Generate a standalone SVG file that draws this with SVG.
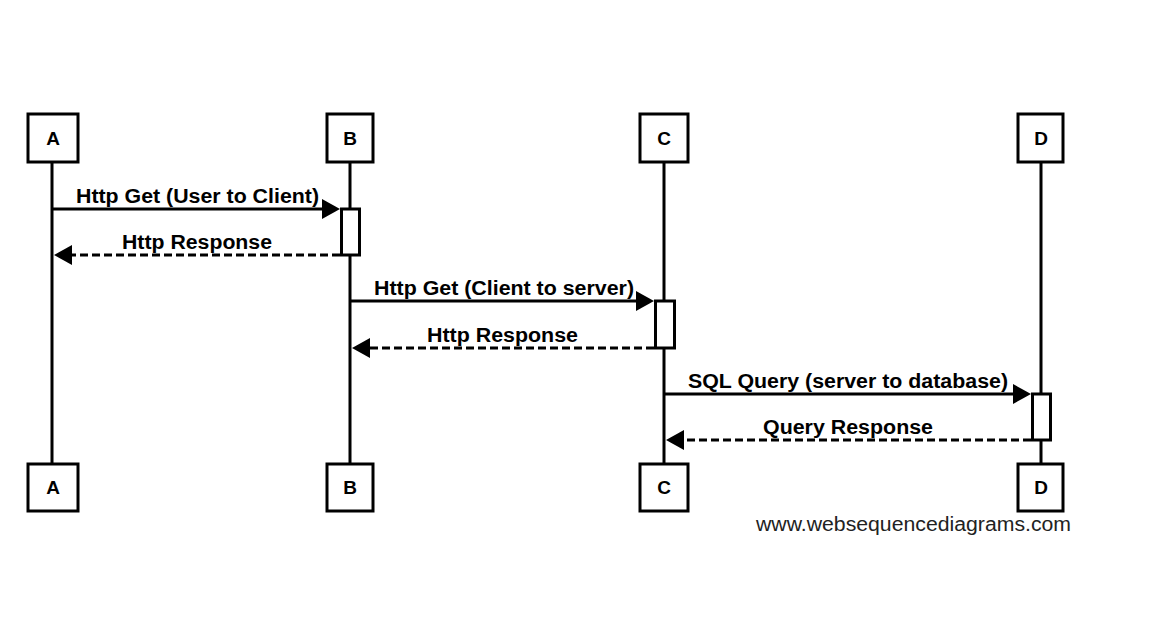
<svg xmlns="http://www.w3.org/2000/svg" width="1155" height="617" viewBox="0 0 1155 617">
<style>
.box{fill:#fff;stroke:#000;stroke-width:3}
.life{stroke:#000;stroke-width:3;fill:none}
.act{fill:#fff;stroke:#000;stroke-width:3}
.msg{stroke:#000;stroke-width:3;fill:none}
.dash{stroke-dasharray:8,4}
.head{fill:#000;stroke:none}
.lbl{font-family:"Liberation Sans",Arial,sans-serif;font-weight:bold;font-size:19px;fill:#000;text-anchor:middle}
.mtxt{font-family:"Liberation Sans",Arial,sans-serif;font-weight:bold;font-size:20px;fill:#000}
.wm{font-family:"Liberation Sans",Arial,sans-serif;font-size:20px;fill:#222}
</style>
<rect width="1155" height="617" fill="#fff"/>
<g id="lifelines">
<line class="life" x1="52" y1="163" x2="52" y2="463"/>
<line class="life" x1="350" y1="163" x2="350" y2="463"/>
<line class="life" x1="664" y1="163" x2="664" y2="463"/>
<line class="life" x1="1041" y1="163" x2="1041" y2="463"/>
</g>
<g id="node-A">
<rect class="box" x="28" y="114" width="50" height="48"/>
<text class="lbl" x="53" y="145">A</text>
<rect class="box" x="28" y="464" width="50" height="47"/>
<text class="lbl" x="53" y="494">A</text>
</g>
<g id="node-B">
<rect class="box" x="327" y="114" width="46" height="48"/>
<text class="lbl" x="350" y="145">B</text>
<rect class="box" x="327" y="464" width="46" height="47"/>
<text class="lbl" x="350" y="494">B</text>
</g>
<g id="node-C">
<rect class="box" x="640" y="114" width="48" height="48"/>
<text class="lbl" x="664" y="145">C</text>
<rect class="box" x="640" y="464" width="48" height="47"/>
<text class="lbl" x="664" y="494">C</text>
</g>
<g id="node-D">
<rect class="box" x="1018" y="114" width="45" height="48"/>
<text class="lbl" x="1041" y="145">D</text>
<rect class="box" x="1018" y="464" width="45" height="47"/>
<text class="lbl" x="1041" y="494">D</text>
</g>
<g id="activations">
<rect class="act" x="341.5" y="209" width="18" height="46"/>
<rect class="act" x="655.5" y="301" width="19" height="47"/>
<rect class="act" x="1032.5" y="394" width="18" height="46"/>
</g>
<g id="connectors">
<line class="msg" x1="52" y1="209" x2="326" y2="209"/>
<polygon class="head" points="340,209 322,199 322,219"/>
<line class="msg dash" x1="340" y1="255" x2="68" y2="255"/>
<polygon class="head" points="54,255 72,245 72,265"/>
<line class="msg" x1="350" y1="301" x2="640" y2="301"/>
<polygon class="head" points="654,301 636,291 636,311"/>
<line class="msg dash" x1="654" y1="348" x2="366" y2="348"/>
<polygon class="head" points="352,348 370,338 370,358"/>
<line class="msg" x1="664" y1="394" x2="1017" y2="394"/>
<polygon class="head" points="1031,394 1013,384 1013,404"/>
<line class="msg dash" x1="1031" y1="440" x2="680" y2="440"/>
<polygon class="head" points="666,440 684,430 684,450"/>
</g>
<g id="labels">
<text class="mtxt" x="76" y="203" textLength="243" lengthAdjust="spacingAndGlyphs">Http Get (User to Client)</text>
<text class="mtxt" x="122" y="249" textLength="150" lengthAdjust="spacingAndGlyphs">Http Response</text>
<text class="mtxt" x="374" y="295" textLength="260" lengthAdjust="spacingAndGlyphs">Http Get (Client to server)</text>
<text class="mtxt" x="427" y="342" textLength="151" lengthAdjust="spacingAndGlyphs">Http Response</text>
<text class="mtxt" x="688" y="388" textLength="320" lengthAdjust="spacingAndGlyphs">SQL Query (server to database)</text>
<text class="mtxt" x="763" y="434" textLength="170" lengthAdjust="spacingAndGlyphs">Query Response</text>
<text class="wm" x="756" y="531" textLength="315" lengthAdjust="spacingAndGlyphs">www.websequencediagrams.com</text>
</g>
</svg>
